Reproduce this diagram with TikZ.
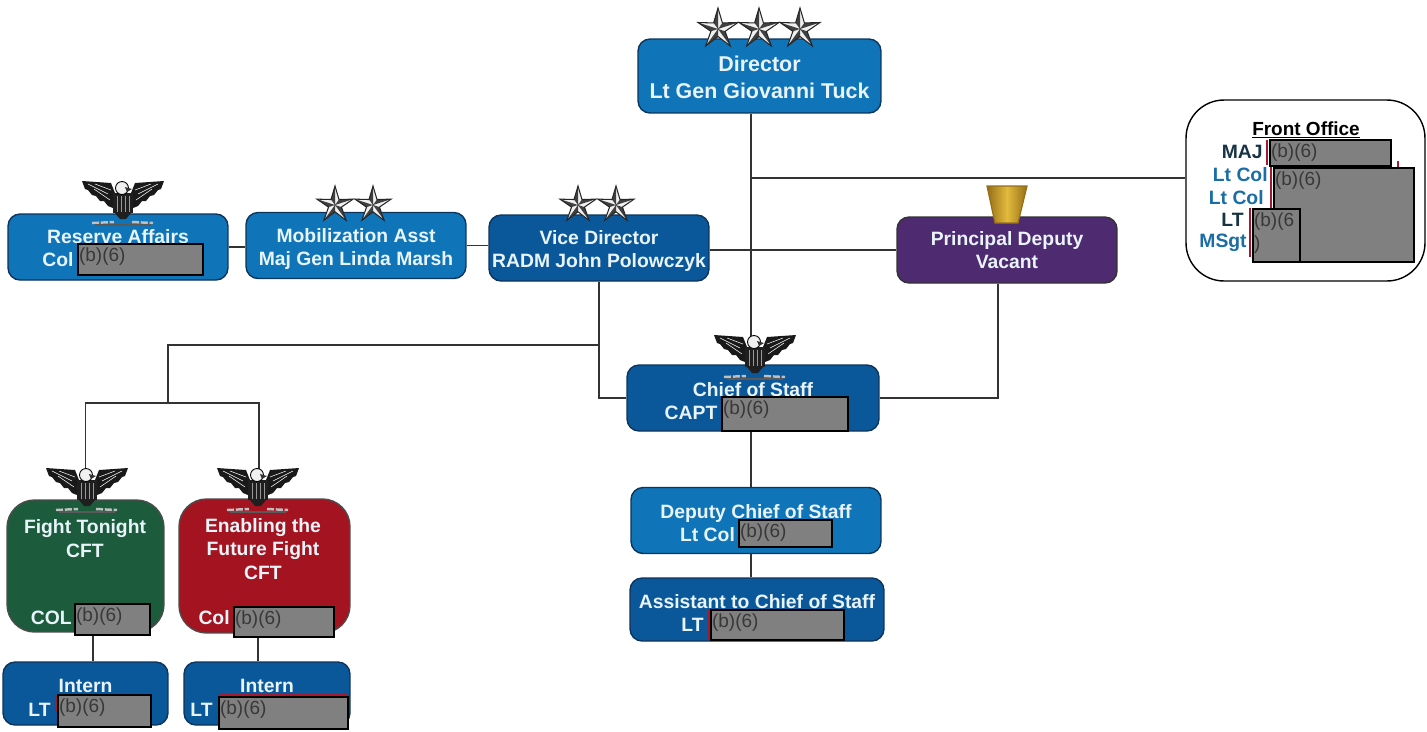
\documentclass[tikz,border=0pt]{standalone}
\usepackage{fontspec}
\setmainfont{Liberation Sans}
\usepackage{xcolor}
\usetikzlibrary{shapes.geometric, positioning}
\definecolor{orglight}{RGB}{15, 116, 184}
\definecolor{orgdark}{RGB}{10, 88, 154}
\definecolor{orgedge}{RGB}{12, 52, 92}
\definecolor{orgpurple}{RGB}{78, 42, 112}
\definecolor{orggreen}{RGB}{28, 92, 60}
\definecolor{orgred}{RGB}{164, 20, 32}
\definecolor{orgtext}{RGB}{232, 244, 250}
\definecolor{rankblue}{RGB}{26, 110, 165}
\definecolor{rankdark}{RGB}{22, 52, 70}
\definecolor{leafgold}{RGB}{226, 186, 60}
\definecolor{leafdark}{RGB}{150, 110, 25}
\definecolor{sliver}{RGB}{165, 25, 50}
\newcommand{\lowline}[1]{\rule{0pt}{#1pt}}
\tikzstyle{orgbox} = [rectangle, rounded corners=0.24cm, minimum width=4.4cm, minimum height=1.32cm, align=center, draw=orgedge, line width=0.8pt, fill=orglight, text=orgtext, inner sep=0pt, font=\bfseries\fontsize{11}{13.2}\selectfont]
\tikzstyle{orgboxdark} = [orgbox, fill=orgdark]
\tikzstyle{cftbox} = [orgbox, rounded corners=0.55cm, draw=black!70]
\tikzstyle{boxtext} = [align=center, text=orgtext, inner sep=0pt, font=\bfseries\fontsize{11}{13.2}\selectfont]
\tikzstyle{ranktext} = [anchor=east, inner sep=0pt, font=\bfseries\fontsize{11}{13}\selectfont]
\tikzstyle{redtext} = [anchor=north west, inner xsep=1pt, inner ysep=2.5pt, text=black!78, align=left, font=\fontsize{10.8}{13}\selectfont]
\tikzstyle{redact} = [rectangle, anchor=north west, draw=black, line width=1.4pt, fill=black!50, inner sep=0pt]
\tikzstyle{line} = [line width=0.7pt, draw=black!80]
\tikzstyle{redline} = [line width=0.9pt, draw=sliver]
\tikzstyle{silverstar} = [star, star points=5, star point ratio=2.8, minimum size=0.84cm, inner sep=0pt, draw=black!85, line width=0.6pt, fill=black!6, path picture={\fill[black!75, shift={(path picture bounding box.center)}] (0,0) -- (90:0.42cm) -- (126:0.15cm) -- (0,0) -- (162:0.42cm) -- (198:0.15cm) -- (0,0) -- (234:0.42cm) -- (270:0.15cm) -- (0,0) -- (306:0.42cm) -- (342:0.15cm) -- (0,0) -- (18:0.42cm) -- (54:0.15cm) -- cycle;}]
\tikzset{
  pics/eagle/.style={code={
    \fill[black!90] (-41,0) -- (-12,2) -- (-8,12) -- (-10,27) -- (-15,25) -- (-19,20) -- (-23,20) -- (-27,15) -- (-31,14) -- (-35,9) -- (-38,8) -- cycle;
    \fill[black!90] (41,0) -- (12,2) -- (8,12) -- (10,27) -- (15,25) -- (19,20) -- (23,20) -- (27,15) -- (31,14) -- (35,9) -- (38,8) -- cycle;
    \draw[white, line width=0.3pt] (-35,3) -- (-15,13) (-28,3) -- (-12,9) (-29,8) -- (-13,19);
    \draw[white, line width=0.3pt] (35,3) -- (15,13) (28,3) -- (12,9) (29,8) -- (13,19);
    \fill[black!88] (-10,12) rectangle (10,32);
    \draw[black!40, line width=0.5pt] (-6,15) -- (-6,31) (-2,15) -- (-2,31) (2,15) -- (2,31) (6,15) -- (6,31);
    \fill[black!88] (-8,32) -- (8,32) -- (3,38) -- (-3,38) -- cycle;
    \filldraw[fill=black!6, draw=black, line width=0.5pt] (-1,7) circle[radius=6.5];
    \fill[black!80] (2,6) -- (9,8) -- (4,11) -- cycle;
    \draw[black!25, line width=1.4pt, dash pattern=on 4pt off 1pt] (-31,42) -- (-9,41);
    \draw[black!25, line width=1.4pt, dash pattern=on 4pt off 1pt] (9,41) -- (30,42);
    \draw[black!65, line width=0.6pt] (-28,44) -- (28,44);
  }}
}

\begin{document}
\begin{tikzpicture}[x=0.02cm, y=-0.02cm]
  \useasboundingbox (0,0) rectangle (1427,731);
  \coordinate (spine) at (751,300);
  \coordinate (frontjoin) at (751,178);
  \coordinate (cftjoin) at (168,345);
  \coordinate (cftsplit) at (168,403);

  \node[orgbox, minimum width=4.86cm, minimum height=1.48cm, font=\bfseries\fontsize{12.2}{15}\selectfont] (director) at (759.5,76) {\lowline{10.5}Director\\Lt Gen Giovanni Tuck};
  \node[orgbox] (reserve) at (118,247) {\lowline{9.5}Reserve Affairs\\\mbox{Col\hspace{2.4cm}}};
  \node[orgbox] (mobil) at (356,245.5) {\lowline{12}Mobilization Asst\\Maj Gen Linda Marsh};
  \node[orgboxdark] (vice) at (599,248) {\lowline{11.5}Vice Director\\RADM John Polowczyk};
  \node[orgbox, fill=orgpurple, draw=black!80] (principal) at (1007,250) {Principal Deputy\\Vacant};
  \node[orgboxdark, minimum width=5.04cm] (cos) at (753,398) {\lowline{11.5}Chief of Staff\\\mbox{CAPT\hspace{2.48cm}}};
  \node[orgbox, minimum width=5cm] (deputy) at (756,520.5) {\lowline{10.5}Deputy Chief of Staff\\\mbox{Lt Col\hspace{1.94cm}}};
  \node[orgboxdark, minimum width=5.08cm, minimum height=1.26cm] (asst) at (757,609.5) {\lowline{12}Assistant to Chief of Staff\\\mbox{LT\hspace{2.58cm}}};
  \node[cftbox, fill=orggreen, minimum width=3.14cm, minimum height=2.64cm] (fight) at (85.5,566) {};
  \node[cftbox, fill=orgred, minimum width=3.42cm, minimum height=2.68cm] (enable) at (264.5,566) {};
  \node[orgboxdark, minimum width=3.3cm, minimum height=1.26cm] (internone) at (85.5,693.5) {\lowline{12.5}Intern\\\mbox{LT\hspace{1.84cm}}};
  \node[orgboxdark, minimum width=3.32cm, minimum height=1.26cm] (interntwo) at (267,693.5) {\lowline{12.5}Intern\\\mbox{LT\hspace{2.62cm}}};
  \node[rectangle, rounded corners=0.76cm, draw=black, line width=0.8pt, fill=white, minimum width=4.78cm, minimum height=3.62cm] (front) at (1305.5,190.5) {};

  \node[boxtext] (fighttitle) at (85,538.5) {Fight Tonight\\CFT};
  \node[boxtext] (enabletitle) at (263,549) {Enabling the\\Future Fight\\CFT};
  \node[inner sep=0pt, font=\bfseries\fontsize{10.8}{13}\selectfont] (fronttitle) at (1306,130) {\underline{Front Office}};

  \draw[line] (director.south -| spine) -- (cos.north -| spine);
  \draw[line] (frontjoin) -- (frontjoin -| front.west);
  \draw[line] (reserve.east) -- (mobil.west |- reserve.east);
  \draw[line] (mobil.east) -- (vice.west |- mobil.east);
  \draw[line] (vice.east |- principal.west) -- (principal.west);
  \draw[line] (vice.south) -- (vice.south |- cos.west) -- (cos.west);
  \draw[line] (principal.south -| 998,0) -- (cos.east -| 998,0) -- (cos.east);
  \draw[line] (cftjoin -| vice.south) -- (cftjoin) -- (cftsplit);
  \draw[line] (fight.north) -- (fight.north |- cftsplit) -- (cftsplit);
  \draw[line] (cftsplit) -| (enable.north -| 259,0);
  \draw[line] (cos.south -| spine) -- (deputy.north -| spine);
  \draw[line] (deputy.south -| spine) -- (asst.north -| spine);
  \draw[line] (fight.south -| 93,0) -- (internone.north -| 93,0);
  \draw[line] (enable.south -| 258,0) -- (interntwo.north -| 258,0);

  \node[silverstar] (dirstarone) at (718,29) {};
  \node[silverstar] (dirstartwo) at (759,29) {};
  \node[silverstar] (dirstarthree) at (800,29) {};
  \node[silverstar, minimum size=0.76cm] (mobstarone) at (335,205) {};
  \node[silverstar, minimum size=0.76cm] (mobstartwo) at (373,205) {};
  \node[silverstar, minimum size=0.76cm] (vicestarone) at (578,205) {};
  \node[silverstar, minimum size=0.76cm] (vicestartwo) at (616,205) {};
  \pic at (123,181) {eagle};
  \pic at (755,335) {eagle};
  \pic at (87,468) {eagle};
  \pic at (258,468) {eagle};
  \shade[draw=leafdark, line width=0.7pt, left color=leafdark, right color=leafdark, middle color=leafgold] (987,186) -- (1027,186) -- (1018,223) -- (995,223) -- cycle;

  \node[redact, minimum width=2.5cm, minimum height=0.62cm] (reservered) at (77,243) {};
  \node[redtext] at (reservered.north west) {(b)(6)};
  \node[redact, minimum width=2.52cm, minimum height=0.68cm] (cosred) at (721,396) {};
  \node[redtext] at (cosred.north west) {(b)(6)};
  \node[redact, minimum width=1.86cm, minimum height=0.54cm] (deputyred) at (738,519) {};
  \node[redtext] at (deputyred.north west) {(b)(6)};
  \node[redact, minimum width=2.66cm, minimum height=0.6cm] (asstred) at (710,609) {};
  \node[redtext] at (asstred.north west) {(b)(6)};
  \node[redact, minimum width=1.5cm, minimum height=0.62cm] (fightred) at (74,603) {};
  \node[redtext] at (fightred.north west) {(b)(6)};
  \node[redact, minimum width=2cm, minimum height=0.6cm] (enablered) at (233,606) {};
  \node[redtext] at (enablered.north west) {(b)(6)};
  \node[redact, minimum width=1.86cm, minimum height=0.64cm] (internonered) at (57,694) {};
  \node[redtext] at (internonered.north west) {(b)(6)};
  \node[redact, minimum width=2.58cm, minimum height=0.64cm] (interntwored) at (218,696) {};
  \node[redtext] at (interntwored.north west) {(b)(6)};
  \node[boxtext, anchor=east] (fightrank) at (72,618) {COL};
  \node[boxtext, anchor=east] (enablerank) at (230,618) {Col};

  \draw[redline] (1398,161) -- (1398,167);
  \draw[redline] (1271,208) -- (1271,167);
  \draw[redline] (1250,208) -- (1250,257);
  \draw[redline] (1267,140) -- (1267,165);
  \node[redact, minimum width=2.42cm, minimum height=0.52cm] (majred) at (1269,139) {};
  \node[redtext] at (majred.north west) {(b)(6)};
  \node[redact, minimum width=2.8cm, minimum height=1.88cm] (ltcolred) at (1273,167) {};
  \node[redtext] at (ltcolred.north west) {(b)(6)};
  \node[redact, minimum width=0.94cm, minimum height=1.06cm] (ltred) at (1252,208) {};
  \node[redtext] at (ltred.north west) {(b)(6\\)};

  \node[ranktext, text=rankdark] (majrank) at (1263,152) {MAJ};
  \node[ranktext, text=rankblue] (ltcolrankone) at (1268,175) {Lt Col};
  \node[ranktext, text=rankblue] (ltcolranktwo) at (1264,198) {Lt Col};
  \node[ranktext, text=rankdark] (ltrank) at (1244,220) {LT};
  \node[ranktext, text=rankblue] (msgtrank) at (1247,243) {MSgt};

  \draw[redline] (709,610) -- (709,640);
  \draw[redline] (219,695) -- (348,695);
  \draw[redline] (56,696) -- (56,712);
\end{tikzpicture}
\end{document}
